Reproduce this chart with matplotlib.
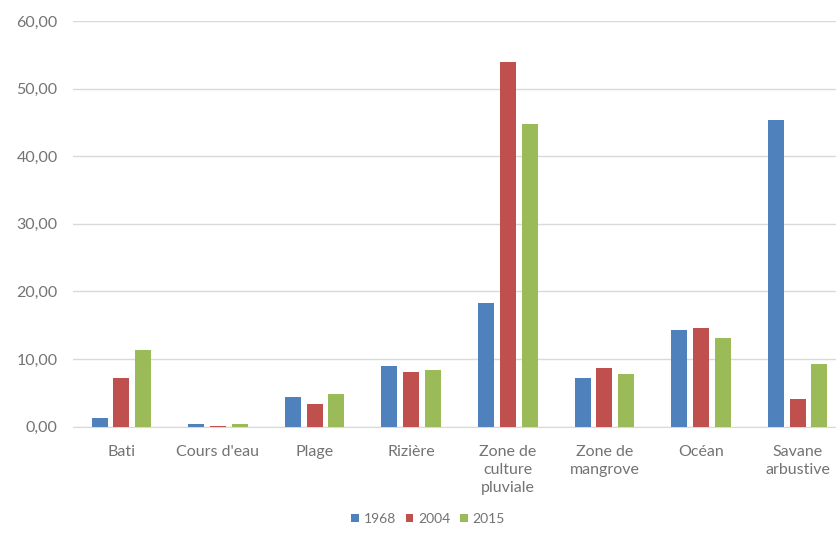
import matplotlib
matplotlib.use("Agg")
import matplotlib.pyplot as plt
import numpy as np

categories = ["Bati", "Cours d'eau", "Plage", "Rizière", "Zone de\nculture\npluviale",
              "Zone de\nmangrove", "Océan", "Savane\narbustive"]
series_names = ["1968", "2004", "2015"]
v1968 = [1.3, 0.3, 4.3, 9.0, 18.3, 7.2, 14.3, 45.3]
v2004 = [7.2, 0.05, 3.4, 8.0, 54.0, 8.7, 14.6, 4.0]
v2015 = [11.3, 0.3, 4.8, 8.3, 44.8, 7.8, 13.1, 9.3]
colors = ["#4F81BD", "#C0504D", "#9BBB59"]
yticks = [0, 10, 20, 30, 40, 50, 60]

plt.rcParams['font.family'] = ['Lato', 'DejaVu Sans']

W, H = 837, 553
fig = plt.figure(figsize=(W / 100, H / 100), dpi=100)
left_px, right_px = 73, 846
top_px, bot_px = 21, 426.5
ax = fig.add_axes([left_px / W, 1 - bot_px / H, (right_px - left_px) / W, (bot_px - top_px) / H])

x = np.arange(len(categories))
bw = 0.165
offs = [-0.225, 0.0, 0.225]
for vals, c, name, o in zip([v1968, v2004, v2015], colors, series_names, offs):
    ax.bar(x + o, vals, width=bw, color=c, label=name, zorder=3)

ax.set_xlim(-0.5, len(categories) - 0.5)
ax.set_ylim(0, 60)
ax.set_yticks(yticks)
ax.set_yticklabels([f"{v:.2f}".replace(".", ",") for v in yticks])
ax.set_xticks(x)
ax.set_xticklabels(categories, linespacing=1.4)
ax.grid(axis='y', color='#D9D9D9', linewidth=1.0, zorder=0)
for s in ['top', 'right', 'left']:
    ax.spines[s].set_visible(False)
ax.spines['bottom'].set_color('#D9D9D9')
ax.tick_params(axis='both', length=0, labelsize=11.5, labelcolor='#737373')
ax.tick_params(axis='y', pad=11)
ax.tick_params(axis='x', pad=13)

leg = fig.legend(loc='center', bbox_to_anchor=(428 / W, 1 - 519 / H), ncol=3, frameon=False,
                 fontsize=10, handlelength=0.55, handleheight=0.55, handletextpad=0.35,
                 columnspacing=0.7)
for t in leg.get_texts():
    t.set_color('#737373')

fig.savefig("out.png", dpi=100)
